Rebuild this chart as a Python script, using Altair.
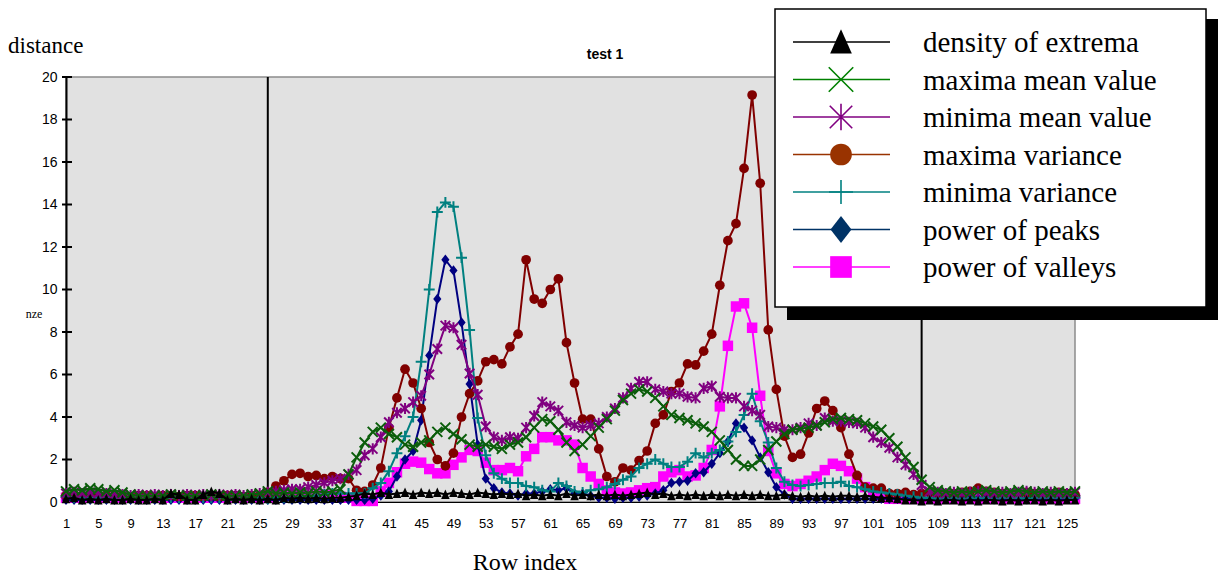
import altair as alt
import pandas as pd

# ---------------- data ----------------
row_index = list(range(1, 127))

density_of_extrema = (
    [0.15, 0.2, 0.1, 0.15, 0.1, 0.15, 0.1, 0.1, 0.15, 0.1, 0.1, 0.15, 0.1, 0.4, 0.35, 0.1, 0.1, 0.35, 0.5, 0.4, 0.1, 0.15, 0.1, 0.15, 0.1]
    + [0.15, 0.1, 0.2, 0.15, 0.2, 0.15, 0.2, 0.15, 0.2, 0.2, 0.25]
    + [0.3, 0.4, 0.35, 0.45, 0.35, 0.4, 0.45, 0.35, 0.45, 0.4, 0.45, 0.35, 0.45, 0.4, 0.35, 0.45, 0.4, 0.35, 0.4, 0.35, 0.4, 0.3, 0.35, 0.3, 0.35, 0.3, 0.4, 0.3, 0.35]
    + [0.3, 0.35, 0.3, 0.35, 0.3, 0.35, 0.4, 0.45, 0.35, 0.4, 0.3, 0.35, 0.3, 0.35, 0.3, 0.35, 0.3, 0.35, 0.3, 0.35, 0.3, 0.35, 0.3, 0.3, 0.35]
    + [0.3, 0.25, 0.3, 0.25, 0.3, 0.25, 0.3, 0.3, 0.25, 0.3, 0.25, 0.2, 0.2, 0.15]
    + [0.1, 0.1, 0.05, 0.1, 0.05, 0.1, 0.1, 0.05, 0.1, 0.05, 0.1, 0.1, 0.05, 0.1, 0.05, 0.1, 0.1, 0.05, 0.1, 0.05, 0.1, 0.1]
)

maxima_mean_value = (
    [0.5, 0.6, 0.55, 0.65, 0.6, 0.5, 0.55, 0.45]
    + [0.35, 0.3, 0.3, 0.3, 0.3, 0.35, 0.3, 0.3, 0.3, 0.3, 0.35, 0.3, 0.3, 0.3, 0.3, 0.35, 0.4]
    + [0.5, 0.4, 0.45, 0.4, 0.45, 0.4, 0.5, 0.45, 0.5, 0.6, 1.3]
    + [2.1, 2.8, 3.3, 3.5, 3.2, 3.05, 2.7, 2.6, 2.8, 2.9, 3.3, 3.5, 3.2, 2.95, 2.7, 2.6, 2.7, 2.6, 2.5, 2.7, 2.8, 3.05, 3.5, 3.9, 3.8, 3.4, 2.8, 2.4, 2.7, 3.1]
    + [3.5, 3.9, 4.3, 4.8, 5.1, 5.3, 5.2, 4.9, 4.5, 4.1, 3.95, 3.85, 3.7, 3.55, 3.3, 2.9, 2.45, 2.0, 1.7, 1.7, 2.0, 2.45, 2.85, 3.2, 3.4, 3.45]
    + [3.5, 3.6, 3.75, 3.9, 3.95, 3.9, 3.85, 3.7, 3.55, 3.4, 3.0, 2.6, 2.1, 1.65, 1.05, 0.7, 0.55]
    + [0.5, 0.45, 0.5, 0.45, 0.5, 0.55, 0.5, 0.45, 0.5, 0.55, 0.5, 0.45, 0.5, 0.45, 0.5, 0.45, 0.5]
)

minima_mean_value = (
    [0.4, 0.45, 0.4, 0.45, 0.4, 0.4, 0.35, 0.35, 0.3, 0.35, 0.3, 0.35, 0.3, 0.35, 0.3, 0.35, 0.3, 0.35, 0.3, 0.35, 0.3, 0.35, 0.3, 0.35, 0.4]
    + [0.45, 0.5, 0.55, 0.6, 0.6, 0.7, 0.8, 0.9, 1.0, 1.1]
    + [1.3, 1.5, 2.2, 2.5, 3.05, 3.75, 4.2, 4.4, 4.7, 5.0, 6.0, 7.2, 8.3, 8.2, 7.4, 6.05, 5.05, 3.55, 3.05, 2.9, 3.05, 3.0, 3.5, 4.05, 4.7]
    + [4.5, 4.3, 3.75, 3.6, 3.5, 3.6, 3.7, 4.0, 4.4, 4.9, 5.35, 5.65, 5.65, 5.3, 5.2, 5.1, 5.1, 4.95, 4.9, 5.35, 5.45, 4.95, 4.9, 4.9, 4.5, 4.3, 4.1, 3.55, 3.5, 3.4]
    + [3.4, 3.5, 3.7, 3.6, 3.95, 3.8, 3.8, 3.75, 3.7, 3.5, 3.05, 2.8, 2.55, 2.1, 1.75, 1.3, 0.8, 0.5]
    + [0.45, 0.4, 0.45, 0.4, 0.45, 0.5, 0.45, 0.4, 0.45, 0.4, 0.45, 0.5, 0.45, 0.4, 0.45, 0.4, 0.4, 0.45]
)

maxima_variance = (
    [0.3, 0.35, 0.3, 0.35, 0.3, 0.3, 0.25, 0.3, 0.25, 0.3, 0.3, 0.25, 0.3, 0.3, 0.25, 0.3, 0.3, 0.25, 0.3, 0.25, 0.3, 0.3, 0.25, 0.3, 0.3]
    + [0.45, 0.75, 1.0, 1.3, 1.35, 1.2, 1.25, 1.1, 1.2, 1.1, 1.1, 0.55, 0.5, 0.8, 1.6]
    + [3.5, 4.9, 6.25, 5.6, 4.4, 2.8, 2.0, 1.7, 2.3, 4.0, 5.1, 5.7, 6.6, 6.7, 6.5, 7.3, 7.9, 11.4, 9.55, 9.35, 10.0, 10.5, 7.5, 5.6, 3.9, 3.9, 2.5, 1.2, 0.95, 1.6]
    + [1.5, 1.95, 2.4, 3.7, 4.1, 5.2, 5.6, 6.5, 6.45, 7.1, 7.9, 10.2, 12.3, 13.1, 15.7, 19.15, 15.0, 8.1, 5.3, 3.1, 2.1, 2.25, 3.25, 4.4, 4.75, 4.3, 3.5, 2.25, 1.25, 0.7, 0.65, 0.65, 0.4]
    + [0.4, 0.45, 0.35, 0.4, 0.45, 0.4, 0.35, 0.4, 0.45, 0.5, 0.65, 0.5, 0.45, 0.4, 0.35, 0.4, 0.45, 0.4, 0.35, 0.4, 0.45, 0.4, 0.35]
)

minima_variance = (
    [0.25, 0.2, 0.2, 0.2, 0.2, 0.2, 0.2, 0.2, 0.2, 0.2, 0.2, 0.2, 0.2, 0.2, 0.2, 0.2, 0.2, 0.2, 0.2, 0.2, 0.2, 0.2, 0.2, 0.2, 0.2, 0.15, 0.2, 0.2, 0.2]
    + [0.25, 0.3, 0.3, 0.35, 0.4, 0.4, 0.4, 0.4, 0.4, 0.65, 0.9, 1.45, 2.3, 3.1, 4.0, 6.6, 10.0, 13.65, 14.1, 13.9, 11.5, 8.1, 3.95, 2.2, 1.35, 1.1, 0.9, 0.9, 0.75, 0.7, 0.55]
    + [0.5, 0.9, 0.75, 0.5, 0.45, 0.55, 0.6, 0.7, 0.85, 1.05, 1.2, 1.6, 1.8, 2.0, 1.8, 1.65, 1.65, 1.9, 2.3, 2.1, 2.3, 2.45, 2.85, 3.3, 4.1, 5.1, 3.8, 2.8, 1.6, 0.95]
    + [0.8, 0.75, 0.8, 0.85, 0.9, 0.9, 0.95, 0.75, 0.7, 0.6, 0.5, 0.45, 0.4, 0.35, 0.3, 0.25, 0.2]
    + [0.2, 0.15, 0.2, 0.2, 0.15, 0.2, 0.2, 0.2, 0.15, 0.2, 0.2, 0.2, 0.15, 0.2, 0.2, 0.2, 0.2, 0.2, 0.2]
)

power_of_peaks = (
    [0.1] * 38 + [0.15, 0.3]
    + [0.5, 1.2, 2.0, 2.4, 3.85, 6.9, 9.55, 11.4, 10.9, 8.45, 5.55, 2.7, 1.1, 0.65, 0.45, 0.4, 0.3, 0.4, 0.4, 0.5, 0.6, 0.55, 0.65, 0.4, 0.4, 0.3, 0.2, 0.2, 0.15, 0.2, 0.2, 0.25, 0.3, 0.4, 0.55, 0.9, 0.95, 1.0, 1.35, 1.4, 1.8, 2.3, 2.85, 3.7, 3.5, 2.9, 2.1, 1.4, 0.7, 0.35]
    + [0.15] * 36
)

power_of_valleys = (
    [0.2] * 26
    + [0.3, 0.35, 0.3, 0.35, 0.3, 0.3, 0.35, 0.3, 0.25, 0.2]
    + [0.05, 0.05, 0.05, 0.5]
    + [0.9, 1.4, 1.8, 1.9, 1.85, 1.55, 1.35, 1.35, 1.75, 2.1, 2.45, 2.4, 1.85, 1.5, 1.5, 1.6, 1.45, 2.15, 2.5, 3.05, 3.05, 2.9, 2.9, 2.7, 1.6, 1.2, 0.85, 0.55, 0.45, 0.4]
    + [0.45, 0.55, 0.65, 0.7, 1.2, 1.4, 1.5, 1.2, 1.25, 1.6, 2.45, 4.5, 7.35, 9.2, 9.35, 8.2, 5.0, 2.4, 1.35, 0.85, 0.75, 0.85, 1.0, 1.2, 1.5, 1.8, 1.7, 1.45, 1.1, 0.7, 0.5, 0.3]
    + [0.15] * 24
)

series_names = ["density of extrema", "maxima mean value", "minima mean value",
                "maxima variance", "minima variance", "power of peaks", "power of valleys"]
series_keys = ["density", "maxmean", "minmean", "maxvar", "minvar", "peaks", "valleys"]
series_values = [density_of_extrema, maxima_mean_value, minima_mean_value,
                 maxima_variance, minima_variance, power_of_peaks, power_of_valleys]

boundaries = [26, 107]
y_ticks = list(range(0, 21, 2))
x_ticks = list(range(1, 127, 4))

# ---------------- styling ----------------
X_PATH = "M-1,-1L1,1M-1,1L1,-1"
AST_PATH = "M-0.85,-0.85L0.85,0.85M-0.85,0.85L0.85,-0.85M0,-1L0,1"
PLUS_PATH = "M-1,0L1,0M0,-1L0,1"
DIAMOND_PATH = "M0,-1L0.78,0L0,1L-0.78,0Z"
TRI_PATH = "M0,-1L0.85,0.9L-0.85,0.9Z"

plot_colors = ["#000000", "#0B5E0B", "#800080", "#800000", "#008080", "#000080", "#FF00FF"]
legend_colors = ["#000000", "#008000", "#800080", "#993300", "#008080", "#003366", "#FF00FF"]
shapes = [TRI_PATH, X_PATH, AST_PATH, "circle", PLUS_PATH, DIAMOND_PATH, "square"]
filled = [True, False, False, True, False, True, True]
plot_sizes = [100, 100, 125, 95, 120, 110, 110]
legend_sizes = [650, 600, 700, 470, 576, 720, 470]

df = pd.DataFrame({"idx": row_index, **{k: v for k, v in zip(series_keys, series_values)}})

W, H = 1009, 425
xsc = alt.Scale(domain=[1, 126], nice=False, zero=False)
ysc = alt.Scale(domain=[0, 20], nice=False, zero=True)
xaxis = alt.Axis(values=x_ticks, labelFontSize=13, labelFont="Liberation Sans", labelColor="black",
                 domainColor="black", domainWidth=1, ticks=False, tickSize=0, labelPadding=15,
                 grid=False, title=None, labelFlush=False, labelOverlap=False)
yaxis = alt.Axis(values=y_ticks, labelFontSize=14, labelFont="Liberation Sans", labelColor="black",
                 domainColor="black", domainWidth=2, ticks=False, tickSize=0, labelPadding=9,
                 grid=False, title=None, labelOverlap=False)

layers = []

# boundary vertical lines
layers.append(
    alt.Chart(pd.DataFrame({"b": boundaries})).mark_rule(color="black", strokeWidth=2).encode(
        x=alt.X("b:Q", scale=xsc, axis=xaxis), y=alt.value(0), y2=alt.value(H))
)
# crossing y ticks
layers.append(
    alt.Chart(pd.DataFrame({"t": y_ticks})).mark_rule(color="black", strokeWidth=2).encode(
        y=alt.Y("t:Q", scale=ysc, axis=yaxis), x=alt.value(-4), x2=alt.value(6))
)

draw_order = [6, 5, 3, 4, 2, 1, 0]
for i in draw_order:
    k = series_keys[i]
    base = alt.Chart(df).encode(
        x=alt.X("idx:Q", scale=xsc, axis=xaxis),
        y=alt.Y(f"{k}:Q", scale=ysc, axis=yaxis),
    )
    layers.append(base.mark_line(color=plot_colors[i], strokeWidth=2))
    if filled[i]:
        pt = base.mark_point(shape=shapes[i], filled=True, fill=plot_colors[i], color=plot_colors[i],
                             size=plot_sizes[i], opacity=1, strokeWidth=0)
    else:
        pt = base.mark_point(shape=shapes[i], filled=False, color=plot_colors[i],
                             size=plot_sizes[i], opacity=1, strokeWidth=2)
    layers.append(pt)

one = pd.DataFrame({"z": [0]})

# legend box with shadow
layers.append(alt.Chart(one).mark_rect(color="black").encode(
    x=alt.value(721), x2=alt.value(1152), y=alt.value(-58), y2=alt.value(243)))
layers.append(alt.Chart(one).mark_rect(fill="white", stroke="black", strokeWidth=1.5).encode(
    x=alt.value(709), x2=alt.value(1140), y=alt.value(-68), y2=alt.value(230)))

for r in range(7):
    ly = -35 + r * 37.5
    ldf = pd.DataFrame({"name": [series_names[r]]})
    layers.append(alt.Chart(ldf).mark_rule(color=legend_colors[r], strokeWidth=1.6).encode(
        x=alt.value(727), x2=alt.value(824), y=alt.value(ly)))
    if filled[r]:
        lm = alt.Chart(ldf).mark_point(shape=shapes[r], filled=True, fill=legend_colors[r],
                                       size=legend_sizes[r], opacity=1, strokeWidth=0)
    else:
        lm = alt.Chart(ldf).mark_point(shape=shapes[r], filled=False, color=legend_colors[r],
                                       size=legend_sizes[r], opacity=1, strokeWidth=1.6)
    layers.append(lm.encode(x=alt.value(775), y=alt.value(ly)))
    layers.append(alt.Chart(ldf).mark_text(font="Liberation Serif", fontSize=29, align="left",
                                           baseline="alphabetic", color="black").encode(
        text="name:N", x=alt.value(857), y=alt.value(ly + 10)))

# titles
layers.append(alt.Chart(pd.DataFrame({"t": ["distance"]})).mark_text(
    font="Liberation Serif", fontSize=23, align="left", baseline="alphabetic", color="black").encode(
    text="t:N", x=alt.value(-58), y=alt.value(-24)))
layers.append(alt.Chart(pd.DataFrame({"t": ["test 1"]})).mark_text(
    font="Liberation Sans", fontSize=14, fontWeight="bold", align="center", baseline="middle", color="black").encode(
    text="t:N", x=alt.value(539), y=alt.value(-22)))
layers.append(alt.Chart(pd.DataFrame({"t": ["nze"]})).mark_text(
    font="Liberation Serif", fontSize=12, align="center", baseline="alphabetic", color="black").encode(
    text="t:N", x=alt.value(-32), y=alt.value(241)))
layers.append(alt.Chart(pd.DataFrame({"t": ["Row index"]})).mark_text(
    font="Liberation Serif", fontSize=24, align="center", baseline="alphabetic", color="black").encode(
    text="t:N", x=alt.value(459), y=alt.value(493)))

chart = alt.layer(*layers).properties(
    width=W, height=H,
    autosize=alt.AutoSizeParams(type="none"),
    padding={"left": 66, "top": 77, "right": 149, "bottom": 78},
).configure_view(fill="#E1E1E1", stroke="#8C8C8C", strokeWidth=1.5)

chart.save("out.html", embed_options={"renderer": "svg", "actions": False})
